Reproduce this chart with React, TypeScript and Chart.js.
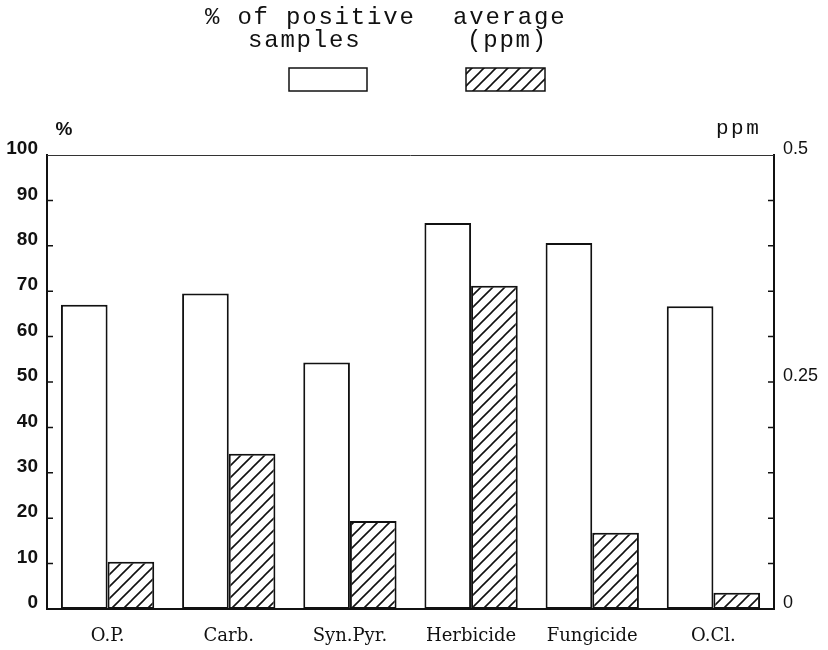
import React, { useEffect, useRef } from 'react';
import { Chart, registerables } from 'chart.js';

Chart.register(...registerables);

const categories = ['O.P.', 'Carb.', 'Syn.Pyr.', 'Herbicide', 'Fungicide', 'O.Cl.'];
const positivePct = [67, 69.5, 54.3, 85, 80.6, 66.7];
const averagePpm = [0.052, 0.171, 0.097, 0.356, 0.084, 0.018];
const pctTickValues = [10, 20, 30, 40, 50, 60, 70, 80, 90];
const ppmTickValues = [0.05, 0.1, 0.15, 0.2, 0.25, 0.3, 0.35, 0.4, 0.45];
const legendPctLines = ['% of positive', 'samples'];
const legendPpmLines = ['average', '(ppm)'];
const leftUnit = '%';
const rightUnit = 'ppm';

function makeHatch(): CanvasPattern | string {
  const s = 12;
  const c = document.createElement('canvas');
  c.width = s;
  c.height = s;
  const g = c.getContext('2d');
  if (!g) return '#fff';
  g.fillStyle = '#fff';
  g.fillRect(0, 0, s, s);
  g.strokeStyle = '#111';
  g.lineWidth = 1.6;
  g.beginPath();
  g.moveTo(0, s);
  g.lineTo(s, 0);
  g.moveTo(-2, 2);
  g.lineTo(2, -2);
  g.moveTo(s - 2, s + 2);
  g.lineTo(s + 2, s - 2);
  g.stroke();
  const p = g.createPattern(c, 'repeat');
  return p || '#fff';
}

export default function App() {
  const ref = useRef<HTMLCanvasElement | null>(null);

  useEffect(() => {
    document.body.style.margin = '0';
    const canvas = ref.current;
    if (!canvas) return;
    const hatch = makeHatch();

    const overlay = {
      id: 'overlay',
      afterDraw(chart: any) {
        const ctx = chart.ctx as CanvasRenderingContext2D;
        const { left, right, top } = chart.chartArea;
        const ys = chart.scales.y;
        const yr = chart.scales.y1;
        ctx.save();
        // top frame line
        ctx.strokeStyle = '#333';
        ctx.lineWidth = 1;
        ctx.beginPath();
        ctx.moveTo(left, top + 0.5);
        ctx.lineTo(right, top + 0.5);
        ctx.stroke();
        // inner ticks
        ctx.strokeStyle = '#111';
        ctx.lineWidth = 1.5;
        ctx.beginPath();
        pctTickValues.forEach((v) => {
          const y = ys.getPixelForValue(v);
          ctx.moveTo(left, y);
          ctx.lineTo(left + 6, y);
        });
        ppmTickValues.forEach((v) => {
          const y = yr.getPixelForValue(v);
          ctx.moveTo(right, y);
          ctx.lineTo(right - 6, y);
        });
        ctx.stroke();
        // unit labels
        ctx.fillStyle = '#111';
        ctx.textBaseline = 'middle';
        ctx.textAlign = 'center';
        ctx.font = 'bold 19px "Liberation Sans"';
        ctx.fillText(leftUnit, 64, 130);
        ctx.font = '21px "Liberation Mono"';
        (ctx as any).letterSpacing = '2.5px';
        ctx.textAlign = 'left';
        ctx.textBaseline = 'alphabetic';
        ctx.fillText(rightUnit, 716, 134);
        // legend text
        ctx.font = '24px "Liberation Mono"';
        (ctx as any).letterSpacing = '1.8px';
        ctx.fillText(legendPctLines[0], 205, 24);
        ctx.fillText(legendPctLines[1], 248, 47);
        ctx.fillText(legendPpmLines[0], 453, 24);
        ctx.fillText(legendPpmLines[1], 467, 47);
        (ctx as any).letterSpacing = '0px';
        // legend boxes
        ctx.lineWidth = 1.5;
        ctx.strokeStyle = '#111';
        ctx.fillStyle = '#fff';
        ctx.fillRect(289, 68, 78, 23);
        ctx.strokeRect(289, 68, 78, 23);
        ctx.fillStyle = hatch as any;
        ctx.fillRect(466, 68, 79, 23);
        ctx.strokeRect(466, 68, 79, 23);
        ctx.restore();
      },
    };

    const chart = new Chart(canvas, {
      type: 'bar',
      data: {
        labels: categories,
        datasets: [
          {
            label: '% of positive samples',
            data: positivePct,
            yAxisID: 'y',
            backgroundColor: '#fff',
            borderColor: '#111',
            borderWidth: 2,
            borderSkipped: false,
          },
          {
            label: 'average (ppm)',
            data: averagePpm,
            yAxisID: 'y1',
            backgroundColor: hatch as any,
            borderColor: '#111',
            borderWidth: 2,
            borderSkipped: false,
          },
        ],
      },
      options: {
        responsive: false,
        animation: false,
        devicePixelRatio: 1,
        layout: { padding: { top: 155, left: 0, right: 0, bottom: 0 } },
        datasets: { bar: { categoryPercentage: 0.77, barPercentage: 1.0 } },
        plugins: { legend: { display: false }, tooltip: { enabled: false } },
        scales: {
          x: {
            grid: { display: false, drawTicks: false },
            border: { display: true, width: 2, color: '#111' },
            ticks: {
              color: '#111',
              font: { family: '"DejaVu Serif"', size: 18 },
              padding: 17,
            },
            afterFit(scale: any) {
              scale.height = 41;
            },
          },
          y: {
            position: 'left',
            min: 0,
            max: 100,
            grid: { display: false, drawTicks: false },
            border: { display: true, width: 2, color: '#111' },
            ticks: {
              stepSize: 10,
              color: '#111',
              font: { family: '"Liberation Sans"', size: 19, weight: 'bold' },
              padding: 9,
              labelOffset: -6,
            },
            afterFit(scale: any) {
              scale.width = 47;
            },
          },
          y1: {
            position: 'right',
            min: 0,
            max: 0.5,
            grid: { display: false, drawTicks: false },
            border: { display: true, width: 2, color: '#111' },
            ticks: {
              stepSize: 0.25,
              color: '#111',
              font: { family: '"Liberation Sans"', size: 18 },
              padding: 9,
              labelOffset: -6,
              callback: (v: any) => String(v),
            },
            afterFit(scale: any) {
              scale.width = 54;
            },
          },
        },
      },
      plugins: [overlay],
    } as any);

    return () => chart.destroy();
  }, []);

  return (
    <div style={{ width: 828, height: 650, background: '#fff' }}>
      <canvas ref={ref} width={828} height={650} style={{ display: 'block' }} />
    </div>
  );
}
